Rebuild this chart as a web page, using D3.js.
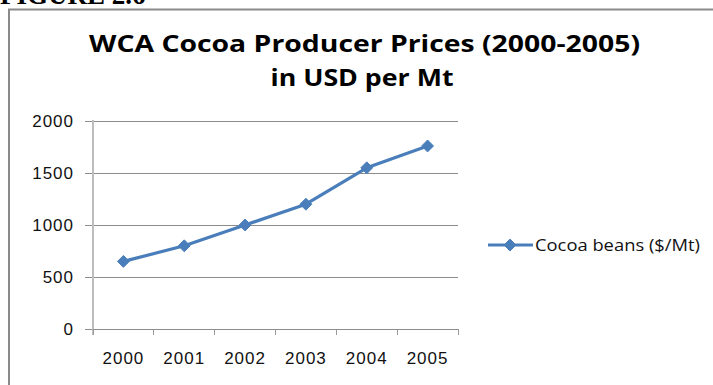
<!DOCTYPE html>
<html>
<head>
<meta charset="utf-8">
<script src="https://cdn.jsdelivr.net/npm/d3@7"></script>
<style>
  html, body { margin: 0; padding: 0; background: #fff; }
  svg { display: block; }
</style>
</head>
<body>
<svg id="chart" width="713" height="385"></svg>
<script>
// Cocoa producer prices, USD per metric tonne
const years = ["2000", "2001", "2002", "2003", "2004", "2005"];
const prices = [650, 800, 1000, 1200, 1550, 1760];
const yTicks = [0, 500, 1000, 1500, 2000];
const seriesName = "Cocoa beans ($/Mt)";
const titleLines = ["WCA Cocoa Producer Prices (2000-2005)", "in USD per Mt"];
const figureLabel = "FIGURE 2.6";

const svg = d3.select("#chart");
const blue = "#4a7ebb";
const labelFont = "'Liberation Sans', Arial, sans-serif";
const titleFont = "'Open Sans', 'Liberation Sans', sans-serif";

// figure caption above the chart frame (partly clipped at the top)
svg.append("text")
  .attr("x", 0).attr("y", 4)
  .attr("font-family", "'Liberation Serif', 'Times New Roman', serif")
  .attr("font-weight", "bold")
  .attr("font-size", 27)
  .attr("fill", "#000")
  .text(figureLabel);

// chart frame (top and left edges visible)
svg.append("path")
  .attr("d", "M9,385 L9,9.5 L713,9.5")
  .attr("fill", "none")
  .attr("stroke", "#8a8a8a")
  .attr("stroke-width", 2);

// title
const title = svg.append("g");
title.append("text")
  .attr("x", 364.5).attr("y", 52)
  .attr("text-anchor", "middle")
  .attr("font-family", titleFont).attr("font-weight", "bold")
  .attr("font-size", 24)
  .attr("textLength", 551).attr("lengthAdjust", "spacingAndGlyphs")
  .text(titleLines[0]);
title.append("text")
  .attr("x", 362).attr("y", 86)
  .attr("text-anchor", "middle")
  .attr("font-family", titleFont).attr("font-weight", "bold")
  .attr("font-size", 24)
  .attr("textLength", 183).attr("lengthAdjust", "spacingAndGlyphs")
  .text(titleLines[1]);

// plot area
const plotL = 93, plotR = 458, plotT = 121, plotB = 329;

const x = d3.scaleBand().domain(years).range([plotL, plotR]).padding(0);
const y = d3.scaleLinear().domain([0, 2000]).range([plotB, plotT]);

// horizontal gridlines with left tick marks
const yAxis = d3.axisLeft(y).tickValues(yTicks).tickFormat(d3.format("d"))
  .tickSize(-(plotR - plotL)).tickPadding(12);
const gy = svg.append("g").attr("transform", `translate(${plotL},0)`).call(yAxis);
gy.select(".domain").remove();
gy.selectAll(".tick line")
  .attr("x1", -8)
  .attr("stroke", "#8c8c8c").attr("stroke-width", 1)
  .attr("shape-rendering", "crispEdges");
gy.selectAll(".tick text")
  .attr("font-family", labelFont).attr("font-size", 17)
  .attr("letter-spacing", 1)
  .attr("fill", "#111")
  .attr("x", -19);

// vertical axis line
svg.append("line")
  .attr("x1", plotL).attr("x2", plotL)
  .attr("y1", plotT - 1).attr("y2", plotB + 6)
  .attr("stroke", "#bdbdbd").attr("stroke-width", 2);

// category axis: boundary ticks below the baseline
const boundaries = years.map(d => x(d)).concat([plotR]);
svg.append("g").selectAll("line").data(boundaries).join("line")
  .attr("x1", d => d).attr("x2", d => d)
  .attr("y1", plotB).attr("y2", plotB + 6)
  .attr("stroke", "#9a9a9a").attr("stroke-width", 1)
  .attr("shape-rendering", "crispEdges");
svg.append("line")
  .attr("x1", plotL).attr("x2", plotR)
  .attr("y1", plotB).attr("y2", plotB)
  .attr("stroke", "#8c8c8c").attr("stroke-width", 1)
  .attr("shape-rendering", "crispEdges");
svg.append("g").selectAll("text").data(years).join("text")
  .attr("x", d => x(d) + x.bandwidth() / 2)
  .attr("y", 364)
  .attr("text-anchor", "middle")
  .attr("font-family", labelFont).attr("font-size", 17)
  .attr("letter-spacing", 1)
  .attr("fill", "#111")
  .text(d => d);

// series line and diamond markers
const pts = years.map((d, i) => [x(d) + x.bandwidth() / 2, y(prices[i])]);
svg.append("path")
  .attr("d", d3.line()(pts))
  .attr("fill", "none")
  .attr("stroke", blue).attr("stroke-width", 3.2)
  .attr("stroke-linejoin", "round").attr("stroke-linecap", "round");

const diamond = d3.symbol().type(d3.symbolDiamond2).size(90);
svg.append("g").selectAll("path").data(pts).join("path")
  .attr("transform", d => `translate(${d[0]},${d[1]})`)
  .attr("d", diamond)
  .attr("fill", blue).attr("stroke", blue).attr("stroke-width", 1);

// legend
const lg = svg.append("g");
lg.append("line")
  .attr("x1", 488).attr("x2", 533).attr("y1", 245).attr("y2", 245)
  .attr("stroke", blue).attr("stroke-width", 3.2);
lg.append("path")
  .attr("transform", "translate(510,245)")
  .attr("d", diamond)
  .attr("fill", blue).attr("stroke", blue).attr("stroke-width", 1);
lg.append("text")
  .attr("x", 535).attr("y", 251)
  .attr("font-family", titleFont).attr("font-size", 17)
  .attr("textLength", 165).attr("lengthAdjust", "spacingAndGlyphs")
  .attr("fill", "#111")
  .text(seriesName);
</script>
</body>
</html>
